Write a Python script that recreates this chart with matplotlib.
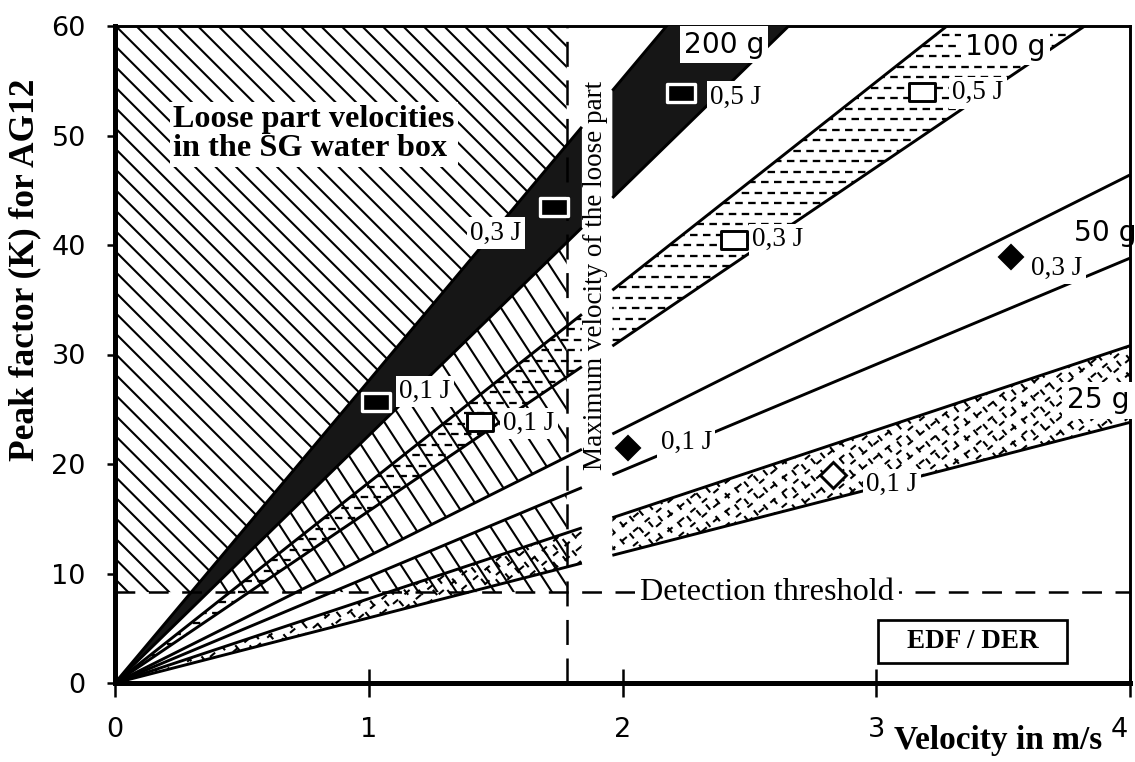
import numpy as np
import matplotlib
matplotlib.use("Agg")
import matplotlib.pyplot as plt
import matplotlib.transforms as mtransforms
from matplotlib.collections import LineCollection
from matplotlib.patches import Polygon, Rectangle
from matplotlib.path import Path

plt.rcParams["lines.scale_dashes"] = False
plt.rcParams["font.family"] = ["DejaVu Sans"]
SERIF = ["Liberation Serif", "DejaVu Serif"]

# Data: peak factor K = slope * velocity, one band (low/high slope) per mass
masses = ["200 g", "100 g", "50 g", "25 g"]
k_low = [22.6, 15.7, 9.7, 5.95]
k_high = [27.6, 18.3, 11.6, 7.7]
v_max = 1.78          # maximum velocity of the loose part (m/s)
threshold = 8.3       # detection threshold on K

# measured impacts (velocity, K) and energies
v200 = [1.03, 1.73, 2.23]
k200 = [25.7, 43.5, 53.9]
e200 = ["0,1 J", "0,3 J", "0,5 J"]
v100 = [1.44, 2.44, 3.18]
k100 = [23.8, 40.5, 54.0]
e100 = ["0,1 J", "0,3 J", "0,5 J"]
v50 = [2.02, 3.53]
k50 = [21.5, 38.9]
e50 = ["0,1 J", "0,3 J"]
v25 = [2.83]
k25 = [19.0]
e25 = ["0,1 J"]
x_ticks = [0, 1, 2, 3, 4]
y_ticks = [0, 10, 20, 30, 40, 50, 60]

fig = plt.figure(figsize=(1135 / 150, 762 / 150), dpi=150)
ax = fig.add_axes([115 / 1135, 1 - 683 / 762, 1015 / 1135, 657 / 762])
ax.set_xlim(0, 4)
ax.set_ylim(0, 60)


def texture(verts, angle, step, lw=1.0, dash=None, z=2):
    """Fill a data polygon with parallel (optionally dashed) strokes."""
    w, h = ax.bbox.width, ax.bbox.height
    t = np.radians(angle)
    d = np.array([np.cos(t), np.sin(t)])
    n = np.array([-np.sin(t), np.cos(t)])
    L = np.hypot(w, h)
    c0 = np.array([w, h]) / 2
    segs = []
    for off in np.arange(-L / 2, L / 2 + step, step):
        c = c0 + n * off
        segs.append(np.array([c - d * L, c + d * L]) / [w, h])
    if dash is None:
        ls = "solid"
    else:
        per = sum(dash)
        ls = [((i * per * 0.5) % per, dash) for i in range(len(segs))]
    lc = LineCollection(segs, colors="black", linewidths=lw, linestyles=ls,
                        transform=ax.transAxes, zorder=z)
    ax.add_collection(lc, autolim=False)
    lc.set_clip_path(Path(verts), ax.transData)


def band(lo, hi, x0, x1):
    return [(x0, lo * x0), (x1, lo * x1), (x1, hi * x1), (x0, hi * x0), (x0, lo * x0)]


cut_l, cut_r = 1.84, 1.96
segments = [(0.0, cut_l), (cut_r, 4.0)]

# hatched area: loose part velocities in the SG water box
upper = [(0, threshold), (threshold / k_high[0], threshold),
         (v_max, k_high[0] * v_max), (v_max, 60), (0, 60), (0, threshold)]
lower = [(threshold / k_low[0], threshold), (v_max, threshold),
         (v_max, k_low[0] * v_max), (threshold / k_low[0], threshold)]
texture(upper, -45, 14.5, lw=1.0, z=1)
texture(lower, -57, 16, lw=1.0, z=1)

for x0, x1 in segments:
    # 200 g: dark band
    ax.add_patch(Polygon(band(k_low[0], k_high[0], x0, x1), closed=True,
                         facecolor="#161616", edgecolor="none", zorder=3))
    # 100 g: dotted band
    texture(band(k_low[1], k_high[1], x0, x1), 0, 10.5, lw=1.1, dash=(3.6, 2.6), z=3)
    # 50 g: clear band
    ax.add_patch(Polygon(band(k_low[2], k_high[2], x0, x1), closed=True,
                         facecolor="white", edgecolor="none", zorder=2))
    # 25 g: dashed cross pattern
    texture(band(k_low[3], k_high[3], x0, x1), 40, 11, lw=1.0, dash=(3.2, 4.0), z=3)
    texture(band(k_low[3], k_high[3], x0, x1), -50, 11, lw=1.0, dash=(3.2, 4.0), z=3)
    for k in k_low + k_high:
        ax.plot([x0, x1], [k * x0, k * x1], color="black", lw=1.4, zorder=4,
                solid_capstyle="butt")

# threshold and maximum velocity
ax.plot([0, 4], [threshold, threshold], color="black", lw=1.2,
        linestyle=(0, (9.5, 6.5)), zorder=4)
ax.plot([v_max, v_max], [0, 60], color="black", lw=1.2,
        linestyle=(0, (12, 6.5)), zorder=4)

# markers
rect = Path([(-1.5, -1), (1.5, -1), (1.5, 1), (-1.5, 1), (-1.5, -1)],
            [Path.MOVETO, Path.LINETO, Path.LINETO, Path.LINETO, Path.CLOSEPOLY])
ax.plot(v200, k200, linestyle="none", marker=rect, ms=13, mfc="black",
        mec="white", mew=1.6, zorder=6)
ax.plot(v100, k100, linestyle="none", marker=rect, ms=12.5, mfc="white",
        mec="black", mew=1.4, zorder=6)
ax.plot(v50, k50, linestyle="none", marker="D", ms=8, mfc="black",
        mec="black", zorder=6)
ax.plot(v25, k25, linestyle="none", marker="D", ms=9, mfc="white",
        mec="black", mew=1.4, zorder=6)

jbox = dict(boxstyle="square,pad=0.12", fc="white", ec="none")
jlabels = [
    (1.12, 26.6, e200[0]), (1.40, 41.1, e200[1]), (2.345, 53.5, e200[2]),
    (1.53, 23.7, e100[0]), (2.51, 40.5, e100[1]), (3.30, 53.9, e100[2]),
    (2.15, 22.0, e50[0]), (3.61, 37.9, e50[1]),
    (2.96, 18.1, e25[0]),
]
for x, y, s in jlabels:
    ax.text(x, y, s, family=SERIF, fontsize=13, ha="left", va="center",
            bbox=jbox, zorder=7)

mbox = dict(boxstyle="square,pad=0.15", fc="white", ec="none")
ax.text(2.40, 58.3, masses[0], fontsize=13.5, ha="center", va="center", bbox=mbox, zorder=7)
ax.text(3.51, 58.1, masses[1], fontsize=13.5, ha="center", va="center", bbox=mbox, zorder=7)
ax.text(3.78, 41.1, masses[2], fontsize=13.5, ha="left", va="center", zorder=7)
ax.text(3.75, 25.8, masses[3], fontsize=13.5, ha="left", va="center", bbox=mbox, zorder=7)

ax.text(0.23, 50.1, "Loose part velocities\nin the SG water box", family=SERIF,
        fontsize=15.5, fontweight="bold", ha="left", va="center", linespacing=1.0,
        bbox=dict(boxstyle="square,pad=0.1", fc="white", ec="none"), zorder=7)
ax.text(1.895, 37.2, "Maximum velocity of the loose part", family=SERIF,
        fontsize=13, rotation=90, ha="center", va="center", zorder=7)
ax.text(2.57, 8.3, "Detection threshold", family=SERIF, fontsize=15.5,
        ha="center", va="center",
        bbox=dict(boxstyle="square,pad=0.15", fc="white", ec="none"), zorder=7)

ax.add_patch(Rectangle((3.007, 1.83), 0.745, 3.92, fc="white", ec="black",
                       lw=1.3, zorder=7))
ax.text(3.38, 3.8, "EDF / DER", family=SERIF, fontsize=13, fontweight="bold",
        ha="center", va="center", zorder=8)

# axes styling
ax.set_xticks(x_ticks)
ax.set_xticklabels([str(t) for t in x_ticks])
ax.set_yticks(y_ticks)
ax.tick_params(axis="x", direction="inout", length=13, width=1.2, pad=10,
               labelsize=13)
ax.tick_params(axis="y", direction="out", length=4, width=1.2, pad=10,
               labelsize=13)
last = ax.get_xticklabels()[-1]
last.set_horizontalalignment("right")
last.set_transform(last.get_transform() +
                   mtransforms.ScaledTranslation(-2 / 150, 0, fig.dpi_scale_trans))
for side in ["left", "bottom"]:
    ax.spines[side].set_linewidth(2.4)
for side in ["top", "right"]:
    ax.spines[side].set_linewidth(1.4)

fig.text(25 / 1135, 1 - 270 / 762, "Peak factor (K) for AG12", family=SERIF,
         fontsize=17, fontweight="bold", rotation=90, ha="center", va="center")
fig.text(998 / 1135, 1 - 740 / 762, "Velocity in m/s", family=SERIF,
         fontsize=16, fontweight="bold", ha="center", va="center")

fig.savefig("out.png", dpi=150)
